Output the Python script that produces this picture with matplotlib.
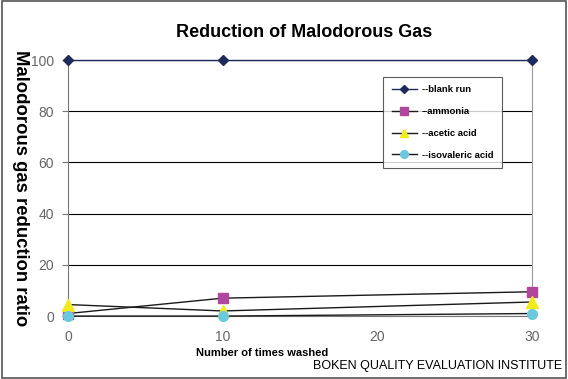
import matplotlib.pyplot as plt
from matplotlib.patches import Rectangle

plt.rcParams['font.family'] = ['Liberation Sans', 'DejaVu Sans']

# data
washes = [0, 10, 30]
blank_run = [100, 100, 100]
ammonia = [1.0, 7.0, 9.5]
acetic_acid = [4.5, 2.0, 5.5]
isovaleric_acid = [0.0, 0.0, 1.0]

series = [
    ("--blank run", blank_run, "D", "#1f2a5c", 5),
    ("--ammonia", ammonia, "s", "#b0479c", 7),
    ("--acetic acid", acetic_acid, "^", "#f2ea1a", 8),
    ("--isovaleric acid", isovaleric_acid, "o", "#6cc8dc", 7),
]

fig = plt.figure(figsize=(5.68, 3.79), dpi=100)
fig.patches.append(Rectangle((0.003, 0.003), 0.994, 0.994, transform=fig.transFigure,
                             fill=False, edgecolor="#555555", linewidth=1.2))

ax = fig.add_axes([0.1197, 0.166, 0.8169, 0.6755])

for name, vals, mk, col, ms in series:
    ax.plot(washes, vals, color="#1a1a1a" if name != "--blank run" else "#1f2a5c",
            linewidth=1.0, marker=mk, markersize=ms, markerfacecolor=col,
            markeredgecolor=col, label=name, clip_on=False, zorder=3)

ax.set_xlim(0, 30)
ax.set_ylim(0, 100)
ax.set_xticks([0, 10, 20, 30])
ax.set_yticks([0, 20, 40, 60, 80, 100])
ax.yaxis.grid(True, color="black", linewidth=0.8)
ax.set_axisbelow(True)
ax.tick_params(axis="both", colors="#777777", labelcolor="#666666", labelsize=10)
ax.tick_params(axis="x", length=0, pad=10)
ax.tick_params(axis="y", length=4, pad=6)
ax.spines["top"].set_visible(False)
ax.spines["left"].set_color("#777777")
ax.spines["right"].set_color("#999999")
ax.spines["bottom"].set_color("#777777")

ax.set_xlabel("Number of times washed", fontsize=8, fontweight="bold")
ax.xaxis.set_label_coords(0.418, -0.125)
ax.set_ylabel("Malodorous gas reduction ratio", fontsize=13.3, fontweight="bold",
              rotation=270, va="center", ha="center")
ax.yaxis.set_label_coords(-0.103, 0.5)

fig.text(0.535, 0.915, "Reduction of Malodorous Gas", ha="center", va="center",
         fontsize=13, fontweight="bold")
fig.text(0.99, 0.033, "BOKEN QUALITY EVALUATION INSTITUTE", ha="right", va="center",
         fontsize=9)

leg = ax.legend(loc="upper left", bbox_to_anchor=(0.679, 0.934), borderaxespad=0,
                frameon=True, fancybox=False, edgecolor="#333333", handlelength=2.7,
                labelspacing=1.35, borderpad=0.9, handletextpad=0.5,
                prop={"weight": "bold", "size": 6.8})
leg.get_frame().set_linewidth(0.8)
for h in leg.legend_handles:
    h.set_markersize(h.get_markersize() * 0.8)

fig.savefig("out.png", dpi=100)
